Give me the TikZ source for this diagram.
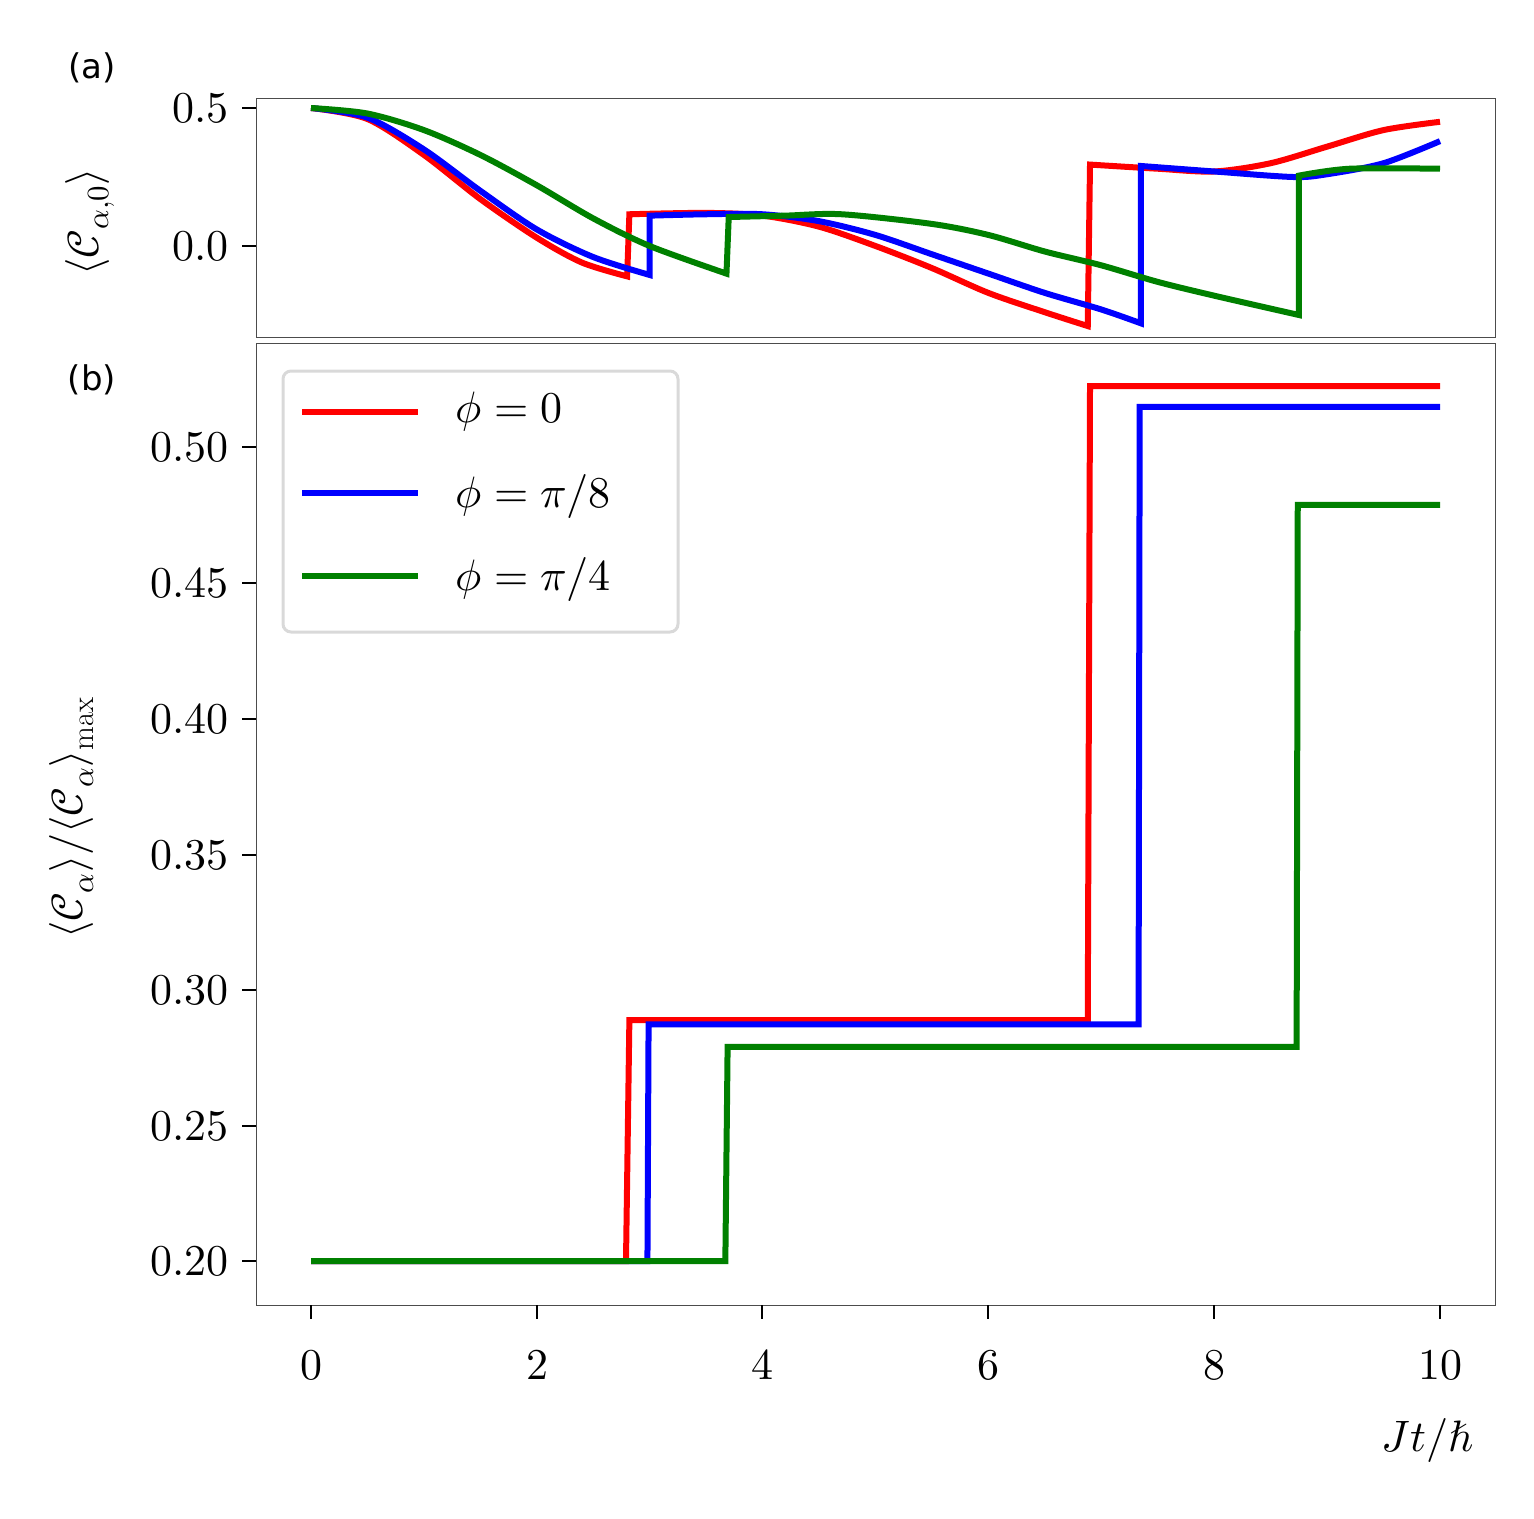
\documentclass[tikz,border=0pt]{standalone}
\usepackage{fontspec}
\usepackage{unicode-math}
\setmathfont{Latin Modern Math}
\setsansfont{DejaVu Sans}
\begin{document}
\begin{tikzpicture}[x=1pt,y=-1pt,
  frame/.style={draw=black!70,line width=1pt},
  tk/.style={line width=2pt},
  curve/.style={line width=6pt,line join=miter},
  ticklab/.style={font=\fontsize{44}{50}\selectfont},
  plab/.style={font=\sffamily\fontsize{34}{40}\selectfont}]
\useasboundingbox (0,0) rectangle (1534,1518);
% frames
\draw[frame] (256,98) rectangle (1495,337);
\draw[frame] (256,343) rectangle (1495,1305);
% (a) y ticks
\foreach \y/\l in {108/0.5,246/0.0}{
  \draw[tk] (242,\y) -- (256,\y);
  \node[ticklab,anchor=east] at (232,\y) {$\l$};}
% (b) y ticks
\foreach \y/\l in {447/0.50,583/0.45,719/0.40,855/0.35,990/0.30,1126/0.25,1261/0.20}{
  \draw[tk] (242,\y) -- (256,\y);
  \node[ticklab,anchor=east] at (232,\y) {$\l$};}
% x ticks
\foreach \x/\l in {311/0,537/2,762/4,988/6,1214/8,1440/10}{
  \draw[tk] (\x,1305) -- (\x,1319);
  \node[ticklab] at (\x,1365) {$\l$};}
\node[ticklab] (xl) at (1428,1440) {$Jt/\hbar$};
\node[ticklab,rotate=90] (yla) at (90,222) {$\langle\mathcal{C}_{\alpha,0}\rangle$};
\node[ticklab,rotate=90] (ylb) at (72,818) {$\langle\mathcal{C}_{\alpha}\rangle/\langle\mathcal{C}_{\alpha}\rangle_{\max}$};
\node[plab] (pa) at (92,68) {(a)};
\node[plab] (pb) at (92,380) {(b)};
% panel a
\begin{scope}
\clip (256,98) rectangle (1495,337);
\begin{scope}[shift={(311pt,-246pt)},x=112.9pt,y=276pt]
\draw[curve,red] plot[smooth] coordinates{(0,0.5)(0.5,0.46)(1,0.33)(1.5,0.17)(2,0.03)(2.4,-0.06)(2.8,-0.11)}
 -- plot[smooth] coordinates{(2.82,0.115)(3.5,0.12)(4,0.11)(4.5,0.07)(5,0.0)(5.5,-0.08)(6,-0.17)(6.5,-0.24)(6.88,-0.29)}
 -- plot[smooth] coordinates{(6.9,0.295)(7.5,0.28)(8,0.27)(8.5,0.3)(9,0.36)(9.5,0.42)(10,0.45)};
\draw[curve,blue] plot[smooth] coordinates{(0,0.5)(0.5,0.465)(1,0.35)(1.5,0.2)(2,0.06)(2.5,-0.04)(3.0,-0.105)}
 -- plot[smooth] coordinates{(3.0,0.11)(3.5,0.115)(4,0.115)(4.5,0.09)(5,0.04)(5.5,-0.03)(6,-0.1)(6.5,-0.17)(7,-0.23)(7.35,-0.28)}
 -- plot[smooth] coordinates{(7.35,0.29)(8,0.27)(8.7,0.25)(9,0.26)(9.5,0.3)(10,0.38)};
\draw[curve,green!50!black] plot[smooth] coordinates{(0,0.5)(0.5,0.48)(1,0.42)(1.5,0.33)(2,0.22)(2.5,0.1)(3,0.0)(3.68,-0.1)}
 -- plot[smooth] coordinates{(3.7,0.105)(4.2,0.11)(4.7,0.115)(5.5,0.08)(6,0.04)(6.5,-0.02)(7,-0.07)(7.5,-0.13)(8,-0.18)(8.75,-0.25)}
 -- plot[smooth] coordinates{(8.75,0.255)(9.2,0.28)(10,0.28)};
\end{scope}
\end{scope}
% panel b
\begin{scope}[shift={(311pt,-1803.8pt)},x=112.9pt,y=2714pt]
\draw[curve,red] (0,0.2) -- (2.79,0.2) -- (2.82,0.2888) -- (6.88,0.2888) -- (6.9,0.5224) -- (10,0.5224);
\draw[curve,blue] (0,0.2) -- (2.98,0.2) -- (2.99,0.2872) -- (7.33,0.2872) -- (7.34,0.5147) -- (10,0.5147);
\draw[curve,green!50!black] (0,0.2) -- (3.67,0.2) -- (3.69,0.2789) -- (8.73,0.2789) -- (8.74,0.4786) -- (10,0.4786);
\end{scope}
% legend
\draw[draw=black!15,line width=3pt,fill=white,fill opacity=0.8,rounded corners=8pt] (283,371) rectangle (678,632);
\draw[curve,red] (302,412) -- (418,412);
\draw[curve,blue] (302,493) -- (418,493);
\draw[curve,green!50!black] (302,576) -- (418,576);
\node[ticklab,anchor=west] (l1) at (452,412) {$\phi=0$};
\node[ticklab,anchor=west] (l2) at (452,496) {$\phi=\pi/8$};
\node[ticklab,anchor=west] (l3) at (452,579) {$\phi=\pi/4$};
\end{tikzpicture}
\end{document}
